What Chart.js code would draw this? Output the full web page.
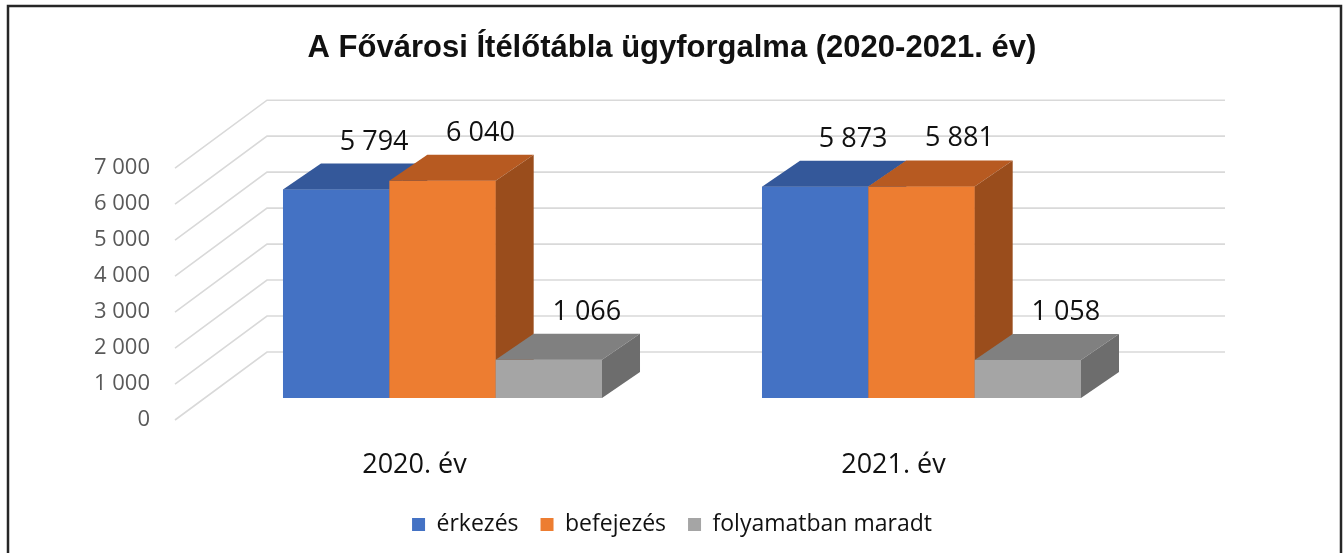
<!DOCTYPE html>
<html lang="hu">
<head>
<meta charset="utf-8">
<title>A Fővárosi Ítélőtábla ügyforgalma</title>
<script src="https://cdn.jsdelivr.net/npm/chart.js@4.4.1/dist/chart.umd.min.js"></script>
<style>
  html, body { margin: 0; padding: 0; background: #fff; }
  #wrap { width: 1344px; height: 553px; }
</style>
</head>
<body>
<div id="wrap"><canvas id="ugyforgalomChart"></canvas></div>
<script>
const evek = ["2020. év", "2021. év"];
const erkezes = [5794, 5873];
const befejezes = [6040, 5881];
const folyamatban = [1066, 1058];
const yTicks = [0, 1000, 2000, 3000, 4000, 5000, 6000, 7000];

// 3D hatás: eltolások px-ben (elülső sík, hátsó fal, oszlop mélysége)
const ELOL = { dx: -28, dy: 22 };
const HATUL = { dx: 64, dy: -46 };
const MELYSEG = { dx: 38, dy: -26 };

// szín: elöl, tető, oldal
const szinek = [
  ["#4472C4", "#34589A", "#2E4D86"],
  ["#ED7D31", "#B75A21", "#9A4D1C"],
  ["#A5A5A5", "#808080", "#6D6D6D"],
];

function ezres(v) {
  return String(v).replace(/\B(?=(\d{3})+(?!\d))/g, " ");
}

const haromD = {
  id: "haromD",

  beforeDraw(chart) {
    const ctx = chart.ctx;
    ctx.save();
    ctx.strokeStyle = "#262626";
    ctx.lineWidth = 2.5;
    ctx.beginPath();
    ctx.moveTo(8, 600);
    ctx.lineTo(8, 6);
    ctx.lineTo(1341, 6);
    ctx.lineTo(1341, 600);
    ctx.stroke();
    ctx.restore();
  },

  // rácsvonalak: ferde a padlón, vízszintes a hátsó falon
  beforeDatasetsDraw(chart) {
    const ctx = chart.ctx;
    const y = chart.scales.y;
    const { left, right } = chart.chartArea;
    ctx.save();
    ctx.strokeStyle = "#d9d9d9";
    ctx.lineWidth = 1.6;
    ctx.beginPath();
    y.ticks.forEach((t) => {
      const py = y.getPixelForValue(t.value);
      ctx.moveTo(left + ELOL.dx, py + ELOL.dy);
      ctx.lineTo(left + HATUL.dx, py + HATUL.dy);
      ctx.lineTo(right + HATUL.dx, py + HATUL.dy);
    });
    ctx.stroke();
    ctx.restore();
  },

  // oszlopok balról jobbra: előlap, tető, oldallap, aztán a feliratok
  afterDatasetsDraw(chart) {
    const ctx = chart.ctx;
    ctx.save();
    chart.data.datasets.forEach((ds, i) => {
      const [elol, teto, oldal] = szinek[i];
      chart.getDatasetMeta(i).data.forEach((el) => {
        const { x, y, base, width } = el.getProps(["x", "y", "base", "width"], true);
        const x0 = x - width / 2;
        const x1 = x + width / 2;

        ctx.fillStyle = elol;
        ctx.fillRect(x0, y, width, base - y);

        ctx.fillStyle = teto;
        ctx.beginPath();
        ctx.moveTo(x0, y);
        ctx.lineTo(x1, y);
        ctx.lineTo(x1 + MELYSEG.dx, y + MELYSEG.dy);
        ctx.lineTo(x0 + MELYSEG.dx, y + MELYSEG.dy);
        ctx.closePath();
        ctx.fill();

        ctx.fillStyle = oldal;
        ctx.beginPath();
        ctx.moveTo(x1, y);
        ctx.lineTo(x1 + MELYSEG.dx, y + MELYSEG.dy);
        ctx.lineTo(x1 + MELYSEG.dx, base + MELYSEG.dy);
        ctx.lineTo(x1, base);
        ctx.closePath();
        ctx.fill();
      });
    });

    ctx.font = "27px 'Open Sans', sans-serif";
    ctx.fillStyle = "#111";
    ctx.textAlign = "center";
    ctx.textBaseline = "alphabetic";
    chart.data.datasets.forEach((ds, i) => {
      chart.getDatasetMeta(i).data.forEach((el, j) => {
        const { x, y } = el.getProps(["x", "y"], true);
        ctx.fillText(ezres(ds.data[j]), x + MELYSEG.dx, y + MELYSEG.dy - 14);
      });
    });
    ctx.restore();
  },
};

Chart.defaults.font.family = "'Open Sans', sans-serif";

new Chart(document.getElementById("ugyforgalomChart"), {
  type: "bar",
  data: {
    labels: evek,
    datasets: [
      {
        label: "érkezés",
        data: erkezes,
        backgroundColor: szinek[0][0],
      },
      {
        label: "befejezés",
        data: befejezes,
        backgroundColor: szinek[1][0],
      },
      {
        label: "folyamatban maradt",
        data: folyamatban,
        backgroundColor: szinek[2][0],
      },
    ],
  },
  options: {
    responsive: true,
    maintainAspectRatio: false,
    animation: false,
    devicePixelRatio: 1,
    categoryPercentage: 0.666,
    barPercentage: 1,
    layout: {
      padding: { left: 0, right: 0, top: 0, bottom: 7 },
    },
    plugins: {
      title: {
        display: true,
        text: "A Fővárosi Ítélőtábla ügyforgalma (2020-2021. év)",
        color: "#111",
        font: {
          family: "'Liberation Sans', Arial, sans-serif",
          size: 31,
          weight: "bold",
        },
        padding: { top: 30, bottom: 79 },
      },
      legend: {
        position: "bottom",
        labels: {
          boxWidth: 13,
          boxHeight: 13,
          padding: 22,
          color: "#111",
          font: { size: 23 },
        },
      },
      tooltip: { enabled: false },
    },
    scales: {
      x: {
        grid: { display: false, drawTicks: false },
        border: { display: false },
        ticks: {
          color: "#111",
          font: { size: 27 },
          padding: 51,
          labelOffset: -28,
        },
        afterFit: (s) => {
          s.height = 93;
        },
      },
      y: {
        min: 0,
        max: 7000,
        grid: { display: false, drawTicks: false },
        border: { display: false },
        afterBuildTicks: (s) => {
          s.ticks = yTicks.map((v) => ({ value: v }));
        },
        ticks: {
          color: "#595959",
          font: { size: 22 },
          padding: 53,
          labelOffset: 22,
          callback: (v) => ezres(v),
        },
        afterFit: (s) => {
          s.width = 203;
        },
      },
      // üres jobb oldali sáv a hátsó fal és a mélység számára
      jobb: {
        position: "right",
        grid: { display: false, drawTicks: false },
        border: { display: false },
        ticks: { display: false },
        afterFit: (s) => {
          s.width = 183;
        },
      },
    },
  },
  plugins: [haromD],
});
</script>
</body>
</html>
